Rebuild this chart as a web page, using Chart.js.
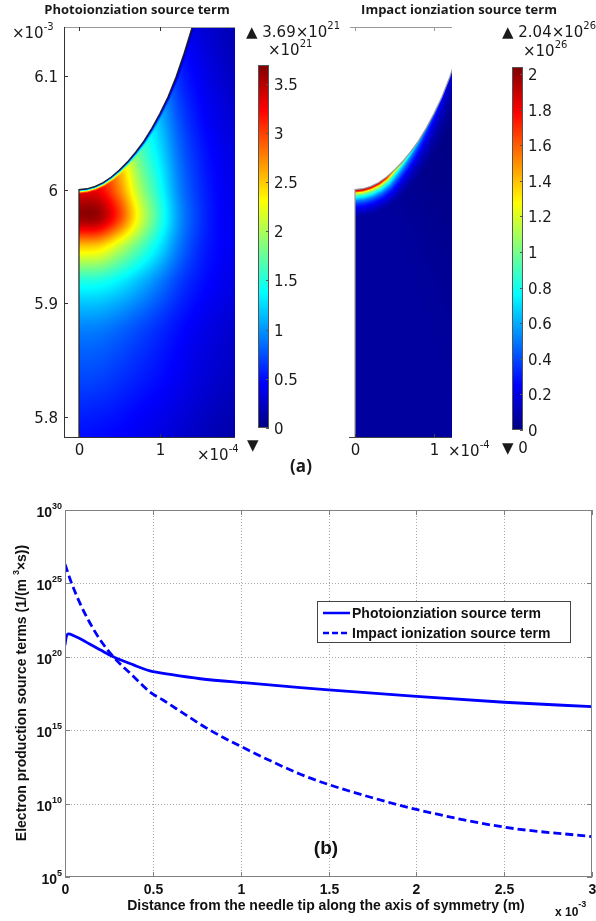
<!DOCTYPE html>
<html>
<head>
<meta charset="utf-8">
<script src="https://cdn.jsdelivr.net/npm/chart.js@4.4.1/dist/chart.umd.min.js"></script>
<style>
  body { margin: 0; background: #fff; }
  #wrap { position: relative; width: 596px; height: 921px; overflow: hidden; background: #fff; }
  #wrap canvas { position: absolute; left: 0; top: 0; }
</style>
</head>
<body>
<div id="wrap">
  <canvas id="photoMap" width="596" height="921"></canvas>
  <canvas id="photoBar" width="596" height="921"></canvas>
  <canvas id="impactMap" width="596" height="921"></canvas>
  <canvas id="impactBar" width="596" height="921"></canvas>
  <canvas id="profiles" width="596" height="921"></canvas>
</div>
<script>
// ---------- (a) surface plots ----------
// needle tip profile: r in 1e-4 m, z in 1e-3 m
const needleR = [0, 0.1, 0.2, 0.3, 0.4, 0.5, 0.6, 0.7, 0.8, 0.9, 1.0, 1.1, 1.2, 1.3, 1.4];
const needleZ = [6.0, 6.0008, 6.0029, 6.0063, 6.0112, 6.0173, 6.0245, 6.033, 6.0425, 6.054, 6.067, 6.0815, 6.099, 6.120, 6.143];

// photoionization source term (x1e21), rows = z, cols = r
const photoGridR = [0, 0.25, 0.5, 0.75, 1.0, 1.25, 1.5, 1.75, 1.95];
const photoGridZ = [5.78, 5.83, 5.88, 5.92, 5.95, 5.975, 6.0, 6.03, 6.06, 6.10, 6.145];
const photoGrid = [
  [0.50, 0.48, 0.45, 0.40, 0.35, 0.29, 0.23, 0.18, 0.15],
  [0.70, 0.68, 0.62, 0.55, 0.48, 0.40, 0.32, 0.26, 0.22],
  [0.95, 0.93, 0.85, 0.74, 0.62, 0.50, 0.40, 0.33, 0.28],
  [1.50, 1.48, 1.35, 1.15, 0.92, 0.68, 0.52, 0.42, 0.36],
  [2.50, 2.45, 2.10, 1.70, 1.30, 0.88, 0.60, 0.46, 0.40],
  [3.60, 3.55, 3.00, 2.20, 1.55, 0.98, 0.65, 0.46, 0.40],
  [3.30, 3.25, 2.75, 2.00, 1.45, 0.92, 0.62, 0.45, 0.38],
  [3.00, 2.90, 2.45, 1.75, 1.30, 0.84, 0.57, 0.42, 0.35],
  [2.70, 2.60, 2.15, 1.55, 1.15, 0.74, 0.50, 0.37, 0.30],
  [2.40, 2.30, 1.90, 1.35, 0.98, 0.60, 0.42, 0.30, 0.23],
  [2.00, 1.90, 1.60, 1.10, 0.80, 0.48, 0.33, 0.24, 0.18]
];
const photoEdgeDepth = [0, 1, 2, 3, 4];          // um from needle surface
const photoEdgeFactor = [0.05, 0.35, 0.7, 0.9, 1];
const photoMax = 3.69;

// impact ionization: value on the needle surface (x1e26) and fall-off with depth
const impactSurface = [2.04, 2.04, 2.03, 2.0, 1.85, 1.4, 1.1, 0.85, 0.65, 0.5, 0.4, 0.3, 0.22, 0.17, 0.14];
const impactDepth = [0, 2, 3, 4, 6, 8, 10, 13, 17, 24];
const impactDecay = [1, 0.8, 0.62, 0.55, 0.42, 0.33, 0.25, 0.17, 0.1, 0.03];
const impactMax = 2.04;

const mapRTicks = [0, 1];
const mapRLabels = ['0', '1'];
const mapZTicks = [5.8, 5.9, 6.0, 6.1];
const mapZLabels = ['5.8', '5.9', '6', '6.1'];
const photoBarTicks = [0, 0.5, 1, 1.5, 2, 2.5, 3, 3.5];
const photoBarLabels = ['0', '0.5', '1', '1.5', '2', '2.5', '3', '3.5'];
const impactBarTicks = [0, 0.2, 0.4, 0.6, 0.8, 1, 1.2, 1.4, 1.6, 1.8, 2];
const impactBarLabels = ['0', '0.2', '0.4', '0.6', '0.8', '1', '1.2', '1.4', '1.6', '1.8', '2'];

// ---------- (b) profiles along the symmetry axis, distance in 1e-3 m ----------
const photoDist = [0, 0.008, 0.02, 0.05, 0.1, 0.14, 0.2, 0.275, 0.39, 0.484, 0.6, 0.77, 1.05, 1.34, 1.5, 2.0, 2.5, 3.0];
const photoRate = [6.3e20, 2.5e21, 3.7e21, 2.7e21, 1.4e21, 7.4e20, 3e20, 1e20, 2.8e19, 1.1e19, 6.3e18, 3.2e18, 1.6e18, 8e17, 5.6e17, 2e17, 8e16, 4e16];
const impactDist = [0, 0.038, 0.085, 0.142, 0.2, 0.275, 0.39, 0.484, 0.56, 0.636, 0.826, 1.0, 1.34, 1.5, 1.75, 2.0, 2.5, 3.0];
const impactRate = [2e26, 1e25, 4.5e23, 2e22, 1.45e21, 1e20, 4.6e18, 4e17, 1.1e17, 2.8e16, 1e15, 8e13, 1e12, 2e11, 2.5e10, 4e9, 2.5e8, 5.6e7];
const distTicks = [0, 0.5, 1, 1.5, 2, 2.5, 3];
const distLabels = ['0', '0.5', '1', '1.5', '2', '2.5', '3'];
const rateTicks = [1e5, 1e10, 1e15, 1e20, 1e25, 1e30];
const rateExp = ['5', '10', '15', '20', '25', '30'];

const seriesNames = ['Photoionziation source term', 'Impact ionization source term'];

// ---------- helpers ----------
function interp(xs, ys, x) {
  if (x <= xs[0]) return ys[0];
  for (let i = 1; i < xs.length; i++) {
    if (x <= xs[i]) {
      const u = (x - xs[i - 1]) / (xs[i] - xs[i - 1]);
      return ys[i - 1] + u * (ys[i] - ys[i - 1]);
    }
  }
  return ys[ys.length - 1];
}

function jet(t) {
  t = Math.max(0, Math.min(1, t));
  const c = v => Math.round(255 * Math.max(0, Math.min(1, v)));
  return [c(1.5 - Math.abs(4 * t - 3)), c(1.5 - Math.abs(4 * t - 2)), c(1.5 - Math.abs(4 * t - 1))];
}

function surfaceZ(r) {
  if (r > needleR[needleR.length - 1]) return Infinity;
  return interp(needleR, needleZ, r);
}

// distance (um) to the needle surface and r of the closest surface point
function surfaceDist(r, z) {
  const X = r * 100, Y = z * 1000;
  let best = Infinity, br = 0;
  for (let i = 0; i < needleR.length - 1; i++) {
    const ax = needleR[i] * 100, ay = needleZ[i] * 1000;
    const dx = needleR[i + 1] * 100 - ax, dy = needleZ[i + 1] * 1000 - ay;
    let u = ((X - ax) * dx + (Y - ay) * dy) / (dx * dx + dy * dy);
    u = Math.max(0, Math.min(1, u));
    const d = Math.hypot(X - ax - u * dx, Y - ay - u * dy);
    if (d < best) { best = d; br = (ax + u * dx) / 100; }
  }
  return [best, br];
}

function fracIndex(arr, v) {
  if (v <= arr[0]) return 0;
  for (let i = 1; i < arr.length; i++) {
    if (v <= arr[i]) return i - 1 + (v - arr[i - 1]) / (arr[i] - arr[i - 1]);
  }
  return arr.length - 1;
}

function catmull(p0, p1, p2, p3, t) {
  return 0.5 * (2 * p1 + (p2 - p0) * t + (2 * p0 - 5 * p1 + 4 * p2 - p3) * t * t + (3 * p1 - p0 - 3 * p2 + p3) * t * t * t);
}

// smooth (bicubic) lookup in the photoionization table
function photoGridValue(r, z) {
  const nr = photoGridR.length, nz = photoGridZ.length;
  const fi = fracIndex(photoGridR, r), fj = fracIndex(photoGridZ, z);
  const i = Math.min(Math.floor(fi), nr - 2), j = Math.min(Math.floor(fj), nz - 2);
  const u = fi - i, v = fj - j;
  const g = (jj, ii) => photoGrid[Math.max(0, Math.min(nz - 1, jj))][Math.max(0, Math.min(nr - 1, ii))];
  const col = [-1, 0, 1, 2].map(dj => catmull(g(j + dj, i - 1), g(j + dj, i), g(j + dj, i + 1), g(j + dj, i + 2), u));
  return Math.max(0, catmull(col[0], col[1], col[2], col[3], v));
}

function font(size, family, weight) {
  return (weight || '') + ' ' + size + 'px "' + family + '"';
}

function drawPow(ctx, x, y, base, exp, o) {
  ctx.font = font(o.size, o.family, o.weight);
  const wb = ctx.measureText(base).width;
  ctx.font = font(o.sup, o.family, o.weight);
  const we = ctx.measureText(exp).width;
  let x0 = x;
  if (o.align === 'right') x0 = x - wb - we;
  else if (o.align === 'center') x0 = x - (wb + we) / 2;
  ctx.textAlign = 'left';
  ctx.textBaseline = 'alphabetic';
  ctx.font = font(o.size, o.family, o.weight);
  ctx.fillText(base, x0, y);
  ctx.font = font(o.sup, o.family, o.weight);
  ctx.fillText(exp, x0 + wb, y - o.rise);
}

function seg(ctx, x1, y1, x2, y2) {
  ctx.beginPath();
  ctx.moveTo(x1, y1);
  ctx.lineTo(x2, y2);
  ctx.stroke();
}

const MAPFONT = 'DejaVu Sans';
const TITLEFONT = 'Open Sans';
const PLOTFONT = 'Liberation Sans';

function fieldPlugin(valueAt, vmax) {
  return {
    id: 'field',
    beforeDatasetsDraw(chart) {
      const { ctx, chartArea: a, scales: { x: sx, y: sy } } = chart;
      const w = Math.round(a.right - a.left), h = Math.round(a.bottom - a.top);
      const img = ctx.createImageData(w, h);
      for (let j = 0; j < h; j++) {
        const z = sy.getValueForPixel(a.top + j + 0.5);
        for (let i = 0; i < w; i++) {
          const r = sx.getValueForPixel(a.left + i + 0.5);
          if (r < 0 || z > surfaceZ(r)) continue;
          const [d, br] = surfaceDist(r, z);
          const rgb = jet(valueAt(r, z, d, br) / vmax);
          const k = (j * w + i) * 4;
          img.data[k] = rgb[0]; img.data[k + 1] = rgb[1]; img.data[k + 2] = rgb[2]; img.data[k + 3] = 255;
        }
      }
      ctx.putImageData(img, Math.round(a.left), Math.round(a.top));
    }
  };
}

function outlineData(yMin) {
  const pts = [{ x: 0, y: yMin }];
  needleR.forEach((r, i) => pts.push({ x: r, y: needleZ[i] }));
  return pts;
}

function mapConfig(opts) {
  return {
    type: 'scatter',
    data: {
      datasets: [{
        data: outlineData(opts.zMin),
        showLine: true,
        borderColor: opts.outline,
        borderWidth: 1.2,
        pointRadius: 0
      }]
    },
    options: {
      responsive: false,
      animation: false,
      devicePixelRatio: 1,
      layout: { padding: opts.padding },
      plugins: { legend: { display: false }, tooltip: { enabled: false } },
      scales: {
        x: { type: 'linear', min: opts.rMin, max: opts.rMax, display: false },
        y: { type: 'linear', min: opts.zMin, max: opts.zMax, display: false }
      }
    },
    plugins: [fieldPlugin(opts.valueAt, opts.vmax), { id: 'mapAxes', afterDraw: opts.afterDraw }]
  };
}

// left map: photoionization
new Chart(document.getElementById('photoMap'), mapConfig({
  padding: { left: 64, right: 596 - 235, top: 27, bottom: 921 - 438 },
  rMin: -0.185, rMax: 1.93, zMin: 5.7816, zMax: 6.143,
  outline: '#222',
  vmax: photoMax,
  valueAt: (r, z, d) => photoGridValue(r, z) * interp(photoEdgeDepth, photoEdgeFactor, d),
  afterDraw(chart) {
    const { ctx, chartArea: a, scales: { x, y } } = chart;
    ctx.save();
    ctx.lineWidth = 1;
    ctx.strokeStyle = '#9a9a9a';
    seg(ctx, a.left, a.top + 0.5, a.right, a.top + 0.5);
    ctx.strokeStyle = '#333';
    seg(ctx, a.left + 0.5, a.top, a.left + 0.5, a.bottom);
    seg(ctx, a.left, a.bottom - 0.5, a.right, a.bottom - 0.5);
    ctx.fillStyle = '#1a1a1a';
    mapZTicks.forEach((v, i) => {
      const py = Math.round(y.getPixelForValue(v)) + 0.5;
      seg(ctx, a.left, py, a.left + 4, py);
      ctx.font = font(15, MAPFONT);
      ctx.textAlign = 'right';
      ctx.textBaseline = 'alphabetic';
      ctx.fillText(mapZLabels[i], a.left - 6, py + 5.5);
    });
    mapRTicks.forEach((v, i) => {
      const px = Math.round(x.getPixelForValue(v)) + 0.5;
      seg(ctx, px, a.bottom, px, a.bottom - 4);
      seg(ctx, px, a.top, px, a.top + 4);
      ctx.font = font(15, MAPFONT);
      ctx.textAlign = 'center';
      ctx.fillText(mapRLabels[i], px, a.bottom + 17);
    });
    drawPow(ctx, 12, 38, '×10', '-3', { size: 15, sup: 10, family: MAPFONT, rise: 8 });
    drawPow(ctx, 197, 460, '×10', '-4', { size: 15, sup: 10, family: MAPFONT, rise: 8 });
    ctx.font = font(13, TITLEFONT, 'bold');
    ctx.textAlign = 'center';
    ctx.fillText('Photoionziation source term', 137, 14);
    ctx.fillText('Impact ionziation source term', 459, 14);
    ctx.font = font(17, TITLEFONT, 'bold');
    ctx.fillText('(a)', 301, 472);
    ctx.restore();
  }
}));

// right map: impact ionization
new Chart(document.getElementById('impactMap'), mapConfig({
  padding: { left: 349, right: 596 - 452, top: 27, bottom: 921 - 438 },
  rMin: -0.076, rMax: 1.228, zMin: 5.7816, zMax: 6.143,
  outline: '#9a9a9a',
  vmax: impactMax,
  valueAt: (r, z, d, br) => interp(needleR, impactSurface, br) * interp(impactDepth, impactDecay, d),
  afterDraw(chart) {
    const { ctx, chartArea: a, scales: { x } } = chart;
    ctx.save();
    ctx.lineWidth = 1;
    ctx.strokeStyle = '#9a9a9a';
    seg(ctx, a.left + 1, a.top + 0.5, a.right, a.top + 0.5);
    ctx.strokeStyle = '#444';
    seg(ctx, a.left, a.bottom - 0.5, a.right, a.bottom - 0.5);
    ctx.fillStyle = '#1a1a1a';
    mapRTicks.forEach((v, i) => {
      const px = Math.round(x.getPixelForValue(v)) + 0.5;
      ctx.strokeStyle = '#444';
      seg(ctx, px, a.bottom, px, a.bottom - 4);
      ctx.strokeStyle = '#9a9a9a';
      seg(ctx, px, a.top, px, a.top + 4);
      ctx.font = font(15, MAPFONT);
      ctx.textAlign = 'center';
      ctx.fillText(mapRLabels[i], px, a.bottom + 17);
    });
    drawPow(ctx, 448, 456, '×10', '-4', { size: 15, sup: 10, family: MAPFONT, rise: 8 });
    ctx.restore();
  }
}));

// colour bars
function barConfig(opts) {
  return {
    type: 'bar',
    data: {
      labels: [''],
      datasets: [{
        data: [[0, opts.max]],
        barPercentage: 1,
        categoryPercentage: 1,
        borderWidth: 0,
        backgroundColor(c) {
          const chart = c.chart;
          if (!chart.chartArea) return null;
          const sy = chart.scales.y;
          const g = chart.ctx.createLinearGradient(0, sy.getPixelForValue(0), 0, sy.getPixelForValue(opts.max));
          [0, 0.125, 0.375, 0.625, 0.875, 1].forEach(s => g.addColorStop(s, 'rgb(' + jet(s).join(',') + ')'));
          return g;
        }
      }]
    },
    options: {
      responsive: false,
      animation: false,
      devicePixelRatio: 1,
      layout: { padding: opts.padding },
      plugins: { legend: { display: false }, tooltip: { enabled: false } },
      scales: {
        x: { display: false },
        y: { min: 0, max: opts.max, display: false }
      }
    },
    plugins: [{
      id: 'barAxis',
      afterDraw(chart) {
        const { ctx, chartArea: a, scales: { y } } = chart;
        ctx.save();
        ctx.strokeStyle = '#555';
        ctx.lineWidth = 1;
        ctx.strokeRect(a.left + 0.5, a.top + 0.5, a.right - a.left - 1, a.bottom - a.top - 1);
        ctx.fillStyle = '#1a1a1a';
        ctx.font = font(15, MAPFONT);
        ctx.textAlign = 'left';
        ctx.textBaseline = 'alphabetic';
        opts.ticks.forEach((v, i) => {
          const py = Math.round(y.getPixelForValue(v)) + 0.5;
          seg(ctx, a.right - 3, py, a.right, py);
          ctx.fillText(opts.labels[i], a.right + 5, py + 5.5);
        });
        opts.extra(ctx);
        ctx.restore();
      }
    }]
  };
}

new Chart(document.getElementById('photoBar'), barConfig({
  max: photoMax,
  padding: { left: 258, right: 596 - 269, top: 65, bottom: 921 - 428 },
  ticks: photoBarTicks,
  labels: photoBarLabels,
  extra(ctx) {
    const o = { size: 15, sup: 10, family: MAPFONT, rise: 8 };
    drawPow(ctx, 246, 37, '▲ ' + photoMax.toFixed(2) + '×10', '21', o);
    drawPow(ctx, 268, 55, '×10', '21', o);
    ctx.font = font(15, MAPFONT);
    ctx.fillText('▼', 247, 450);
  }
}));

new Chart(document.getElementById('impactBar'), barConfig({
  max: impactMax,
  padding: { left: 512, right: 596 - 523, top: 67, bottom: 921 - 430 },
  ticks: impactBarTicks,
  labels: impactBarLabels,
  extra(ctx) {
    const o = { size: 15, sup: 10, family: MAPFONT, rise: 8 };
    drawPow(ctx, 502, 37, '▲ ' + impactMax.toFixed(2) + '×10', '26', o);
    drawPow(ctx, 523, 56, '×10', '26', o);
    ctx.font = font(15, MAPFONT);
    ctx.fillText('▼ 0', 502, 453);
  }
}));

// ---------- (b) line chart ----------
const profileAxes = {
  id: 'profileAxes',
  beforeDatasetsDraw(chart) {
    const { ctx, chartArea: a, scales: { x, y } } = chart;
    ctx.save();
    ctx.strokeStyle = '#a8a8a8';
    ctx.lineWidth = 1;
    ctx.setLineDash([1, 2]);
    distTicks.slice(1, -1).forEach(v => {
      const px = Math.round(x.getPixelForValue(v)) + 0.5;
      seg(ctx, px, a.top, px, a.bottom);
    });
    rateTicks.slice(1, -1).forEach(v => {
      const py = Math.round(y.getPixelForValue(v)) + 0.5;
      seg(ctx, a.left, py, a.right, py);
    });
    ctx.restore();
  },
  afterDraw(chart) {
    const { ctx, chartArea: a, scales: { x, y } } = chart;
    ctx.save();
    ctx.strokeStyle = '#808080';
    ctx.lineWidth = 1;
    ctx.strokeRect(Math.round(a.left) + 0.5, Math.round(a.top) + 0.5, Math.round(a.right - a.left) - 1, Math.round(a.bottom - a.top) - 1);
    ctx.fillStyle = '#111';
    distTicks.forEach((v, i) => {
      const px = Math.round(x.getPixelForValue(v)) + 0.5;
      seg(ctx, px, a.bottom, px, a.bottom - 5);
      seg(ctx, px, a.top, px, a.top + 5);
      ctx.font = font(14, PLOTFONT, 'bold');
      ctx.textAlign = 'center';
      ctx.textBaseline = 'alphabetic';
      ctx.fillText(distLabels[i], px, a.bottom + 17);
    });
    rateTicks.forEach((v, i) => {
      const py = Math.round(y.getPixelForValue(v)) + 0.5;
      seg(ctx, a.left, py, a.left + 5, py);
      seg(ctx, a.right, py, a.right - 5, py);
      drawPow(ctx, a.left - 3, py + 6, '10', rateExp[i], { size: 14, sup: 9, family: PLOTFONT, weight: 'bold', rise: 8, align: 'right' });
    });
    // axis titles
    ctx.font = font(14, PLOTFONT, 'bold');
    ctx.textAlign = 'center';
    ctx.fillText('Distance from the needle tip along the axis of symmetry (m)', 326, 910);
    drawPow(ctx, 555, 916, 'x 10', '-3', { size: 12, sup: 9, family: PLOTFONT, weight: 'bold', rise: 9 });
    ctx.save();
    ctx.translate(26, 693);
    ctx.rotate(-Math.PI / 2);
    const p1 = 'Electron production source terms (1/(m ', p2 = '×s))';
    ctx.font = font(14, PLOTFONT, 'bold');
    const w1 = ctx.measureText(p1).width, w2 = ctx.measureText(p2).width;
    ctx.font = font(9, PLOTFONT, 'bold');
    const w3 = ctx.measureText('3').width;
    const x0 = -(w1 + w2 + w3) / 2;
    ctx.textAlign = 'left';
    ctx.font = font(14, PLOTFONT, 'bold');
    ctx.fillText(p1, x0, 0);
    ctx.font = font(9, PLOTFONT, 'bold');
    ctx.fillText('3', x0 + w1, -7);
    ctx.font = font(14, PLOTFONT, 'bold');
    ctx.fillText(p2, x0 + w1 + w3, 0);
    ctx.restore();
    // (b)
    ctx.font = font(19, PLOTFONT, 'bold');
    ctx.textAlign = 'center';
    ctx.fillText('(b)', 326, 854);
    // legend
    const lx = 317, ly = 601, lw = 254, lh = 42;
    ctx.fillStyle = '#fff';
    ctx.fillRect(lx, ly, lw, lh);
    ctx.strokeStyle = '#444';
    ctx.lineWidth = 1;
    ctx.strokeRect(lx + 0.5, ly + 0.5, lw - 1, lh - 1);
    chart.data.datasets.forEach((ds, i) => {
      const yy = ly + 12 + i * 20;
      ctx.strokeStyle = ds.borderColor;
      ctx.lineWidth = 2.5;
      ctx.setLineDash(ds.borderDash ? [6, 3] : []);
      seg(ctx, lx + 6, yy, lx + 33, yy);
      ctx.setLineDash([]);
      ctx.fillStyle = '#111';
      ctx.font = font(14, PLOTFONT, 'bold');
      ctx.textAlign = 'left';
      ctx.fillText(ds.label, lx + 35, yy + 5);
    });
    ctx.restore();
  }
};

new Chart(document.getElementById('profiles'), {
  type: 'line',
  data: {
    datasets: [{
      label: seriesNames[0],
      data: photoDist.map((d, i) => ({ x: d, y: photoRate[i] })),
      borderColor: '#0000ff',
      borderWidth: 2.8,
      pointRadius: 0,
      cubicInterpolationMode: 'monotone'
    }, {
      label: seriesNames[1],
      data: impactDist.map((d, i) => ({ x: d, y: impactRate[i] })),
      borderColor: '#0000ff',
      borderWidth: 2.8,
      borderDash: [8, 4],
      pointRadius: 0,
      cubicInterpolationMode: 'monotone'
    }]
  },
  options: {
    responsive: false,
    animation: false,
    devicePixelRatio: 1,
    layout: { padding: { left: 65, right: 596 - 592, top: 510, bottom: 921 - 877 } },
    plugins: { legend: { display: false }, tooltip: { enabled: false } },
    scales: {
      x: { type: 'linear', min: 0, max: 3, display: false },
      y: { type: 'logarithmic', min: 1e5, max: 1e30, display: false }
    }
  },
  plugins: [profileAxes]
});
</script>
</body>
</html>
